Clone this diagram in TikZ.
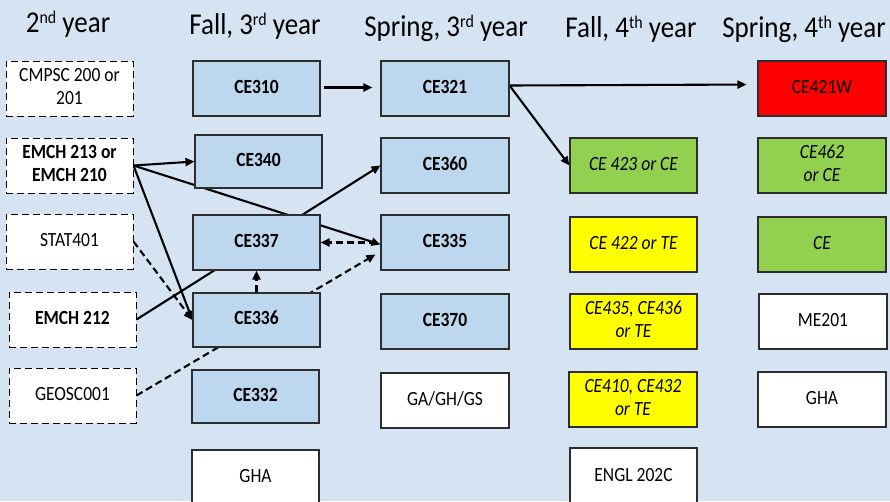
\documentclass[tikz,border=0pt]{standalone}
\usepackage{fontspec}
\setmainfont{Carlito}
\usepackage{graphicx}
\usetikzlibrary{arrows.meta}

\definecolor{pagebg}{RGB}{214,227,243}
\definecolor{coreblue}{RGB}{189,215,238}
\definecolor{cegreen}{RGB}{146,208,80}
\definecolor{teyellow}{RGB}{255,255,0}
\definecolor{wred}{RGB}{255,0,0}
\definecolor{boxline}{RGB}{45,45,45}

% slightly tall lettering, as on the slide
\newcommand{\tx}[1]{\scalebox{1}[1.15]{\begin{tabular}{@{}c@{}}#1\end{tabular}}}
\newcommand{\hd}[1]{\scalebox{1}[1.12]{#1}}
\newcommand{\ord}[1]{\raisebox{8pt}{\fontsize{16}{16}\selectfont #1}}
\newcommand{\boxfont}{\fontsize{17.5}{20}\selectfont}

\pgfdeclarelayer{backdrop}
\pgfdeclarelayer{links}
\pgfsetlayers{backdrop,links,main}

\tikzset{
  course/.style={draw=boxline, line width=1.1pt, minimum width=127pt,
    minimum height=55pt, inner sep=0pt, font=\boxfont},
  core/.style={course, fill=coreblue, font=\boxfont\bfseries},
  prereq/.style={course, fill=white, draw=black, line width=1pt,
    dash pattern=on 7pt off 4pt},
  prereqb/.style={prereq, font=\boxfont\bfseries},
  gened/.style={course, fill=white},
  ceopt/.style={course, fill=cegreen, font=\boxfont\itshape},
  teopt/.style={course, fill=teyellow, font=\boxfont\itshape},
  wcourse/.style={course, fill=wred},
  head/.style={anchor=base, inner sep=0pt, font=\fontsize{27}{30}\selectfont},
  link/.style={line width=2.1pt, -{Triangle[length=9pt,width=8pt]}},
  dlink/.style={link, dash pattern=on 7pt off 4pt}
}

\begin{document}
\begin{tikzpicture}[x=1pt,y=-1pt]
\path[use as bounding box] (0,0) rectangle (890,501);
\begin{pgfonlayer}{backdrop}
  \fill[pagebg] (0,0) rectangle (890,501);
\end{pgfonlayer}
\clip (0,0) rectangle (890,501);

% column headings
\node[head] (h1) at (68,32)  {\hd{2\ord{nd} year}};
\node[head] (h2) at (255,34) {\hd{Fall, 3\ord{rd} year}};
\node[head] (h3) at (446,36) {\hd{Spring, 3\ord{rd} year}};
\node[head] (h4) at (631,37) {\hd{Fall, 4\ord{th} year}};
\node[head] (h5) at (804,37) {\hd{Spring, 4\ord{th} year}};

% second year prerequisites
\node[prereq]  (cmpsc)   at (69.5,88.5)  {\tx{CMPSC 200 or\\201}};
\node[prereqb] (emch213) at (69.5,165.5) {\tx{EMCH 213 or\\EMCH 210}};
\node[prereq]  (stat)    at (69.5,241.5) {\tx{STAT401}};
\node[prereqb] (emch212) at (72.5,319.5) {\tx{EMCH 212}};
\node[prereq]  (geosc)   at (72.5,395.5) {\tx{GEOSC001}};

% fall, third year
\node[core] (ce310) at (256.5,88.5) {\tx{CE310}};
\node[core, minimum height=53pt] (ce340) at (258.5,161.5) {\tx{CE340}};
\node[core] (ce337) at (256.5,242.5) {\tx{CE337}};
\node[core, minimum height=54pt] (ce336) at (256.5,320) {\tx{CE336}};
\node[core, minimum height=53pt] (ce332) at (255.5,396.5) {\tx{CE332}};
\node[gened, minimum height=56pt] (gha1) at (255.5,478) {\tx{GHA}};

% spring, third year
\node[core, minimum width=128pt] (ce321) at (445,88.5)  {\tx{CE321}};
\node[core, minimum width=128pt] (ce360) at (445,165.5) {\tx{CE360}};
\node[core, minimum width=128pt] (ce335) at (445,242.5) {\tx{CE335}};
\node[core, minimum width=128pt] (ce370) at (445,321.5) {\tx{CE370}};
\node[gened, minimum width=128pt] (gen3) at (445,400.5) {\tx{GA/GH/GS}};

% fall, fourth year
\node[ceopt] (ce423) at (633.5,165.5) {\tx{CE 423 or CE}};
\node[teopt] (ce422) at (633.5,244.5) {\tx{CE 422 or TE}};
\node[teopt] (ce435) at (633.5,321.5) {\tx{CE435, CE436\\or TE}};
\node[teopt, minimum width=128pt] (ce410) at (633,399.5) {\tx{CE410, CE432\\or TE}};
\node[gened, minimum height=58pt] (engl) at (633.5,477) {\tx{ENGL 202C}};

% spring, fourth year
\node[wcourse, minimum width=128pt] (ce421w) at (822,88.5)  {\tx{CE421W}};
\node[ceopt, minimum width=128pt]   (ce462)  at (822,165.5) {\tx{CE462\\or CE}};
\node[ceopt, minimum width=128pt]   (ceel)   at (822,244.5) {\tx{CE}};
\node[gened, minimum width=128pt]   (me201)  at (823,321.5) {\tx{ME201}};
\node[gened, minimum width=128pt]   (gha2)   at (822,399.5) {\tx{GHA}};

% prerequisite links, drawn beneath the boxes
\begin{pgfonlayer}{links}
  \draw[link] (emch213.east) -- (ce340.west);
  \draw[link] (emch213.east) -- (ce336.west);
  \draw[link] (emch213.east) -- ([yshift=-2pt]ce335.west);
  \draw[dlink] (stat.east) -- (ce336.west);
  \draw[link] (emch212.east) -- (ce360.west);
  \draw[dlink] (geosc.east) -- ([xshift=-5pt,yshift=-12pt]ce335.west);
  \draw[dlink] (ce336.north) -- (ce337.south);
  \draw[dlink] ([xshift=-4pt]ce335.west) -- (ce337.east);
  \draw[link, shorten <=3pt, shorten >=8pt] ([yshift=1pt]ce310.east) -- ([yshift=1pt]ce321.west);
  \draw[link, shorten >=11pt] ([yshift=3pt]ce321.east) -- ([yshift=4pt]ce421w.west);
  \draw[link] ([yshift=3pt]ce321.east) -- (ce423.west);
\end{pgfonlayer}
\end{tikzpicture}
\end{document}
